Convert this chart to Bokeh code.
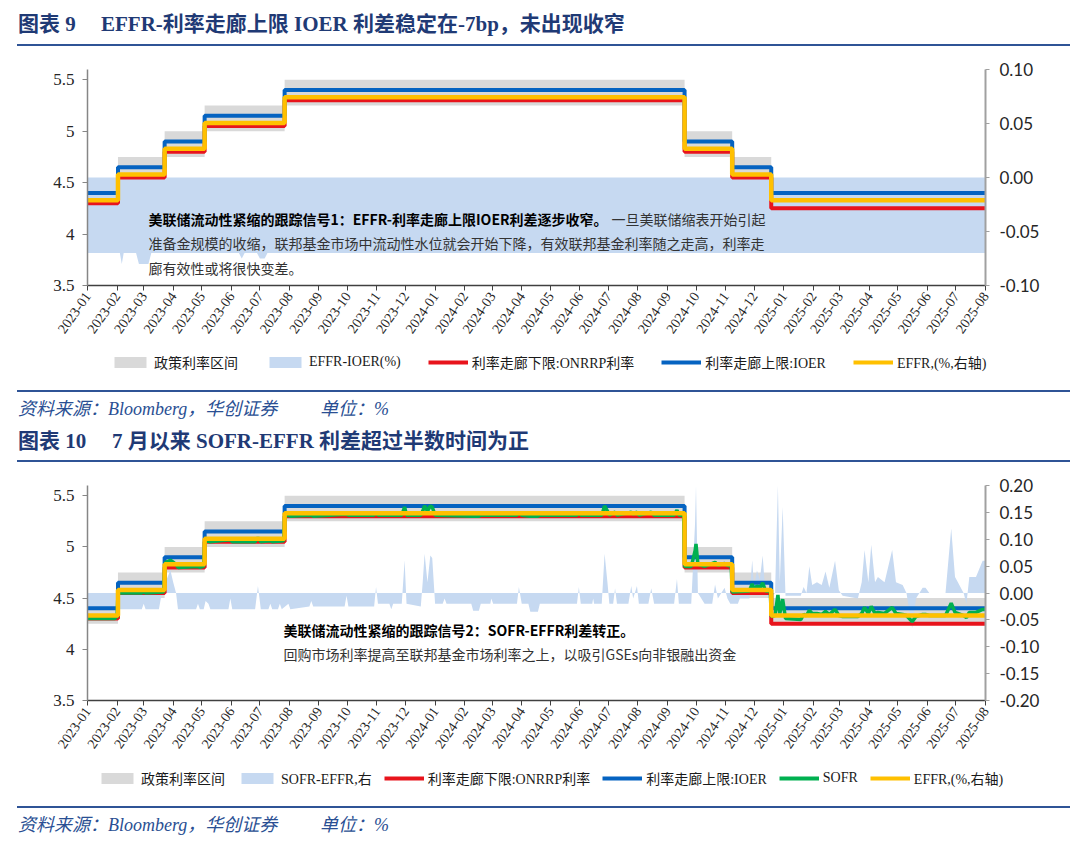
import math
import pandas as pd
from bokeh.plotting import figure
from bokeh.models import (Range1d, LinearAxis, FixedTicker, DatetimeTickFormatter,
                          NumeralTickFormatter, Legend, LegendItem, Label, Div,
                          ColumnDataSource)
from bokeh.layouts import column
from bokeh.embed import file_html
from bokeh.resources import INLINE

# ---------------- data ----------------
tick_months = ["2023-01", "2023-02", "2023-03", "2023-04", "2023-05", "2023-06", "2023-07",
               "2023-08", "2023-09", "2023-10", "2023-11", "2023-12", "2024-01", "2024-02",
               "2024-03", "2024-04", "2024-05", "2024-06", "2024-07", "2024-08", "2024-09",
               "2024-10", "2024-11", "2024-12", "2025-01", "2025-02", "2025-03", "2025-04",
               "2025-05", "2025-06", "2025-07", "2025-08"]
left_ticks = [3.5, 4.0, 4.5, 5.0, 5.5]
right_ticks_1 = [-0.10, -0.05, 0.00, 0.05, 0.10]
right_ticks_2 = [-0.20, -0.15, -0.10, -0.05, 0.00, 0.05, 0.10, 0.15, 0.20]

policy_start = ["2023-01-01", "2023-02-02", "2023-03-23", "2023-05-04", "2023-07-27",
                "2024-09-19", "2024-11-08", "2024-12-19"]
policy_end = ["2023-02-02", "2023-03-23", "2023-05-04", "2023-07-27", "2024-09-19",
              "2024-11-08", "2024-12-19", "2025-08-01"]
policy_lower = [4.25, 4.50, 4.75, 5.00, 5.25, 4.75, 4.50, 4.25]
policy_upper = [4.50, 4.75, 5.00, 5.25, 5.50, 5.00, 4.75, 4.50]
ioer = [4.40, 4.65, 4.90, 5.15, 5.40, 4.90, 4.65, 4.40]
onrrp = [4.30, 4.55, 4.80, 5.05, 5.30, 4.80, 4.55, 4.25]
effr = [4.33, 4.58, 4.83, 5.08, 5.33, 4.83, 4.58, 4.33]

effr_ioer_dates = ["2023-01-01", "2023-02-04", "2023-02-06", "2023-02-08", "2023-02-21",
                   "2023-02-24", "2023-03-06", "2023-03-09", "2023-06-09", "2023-06-12",
                   "2023-06-15", "2023-06-28", "2023-07-01", "2023-07-06", "2023-07-09",
                   "2025-08-01"]
effr_ioer = [-0.07, -0.07, -0.08, -0.07, -0.07, -0.08, -0.08, -0.07, -0.07, -0.075,
             -0.07, -0.07, -0.075, -0.075, -0.07, -0.07]

sofr_effr_dates = [
    "2023-01-01", "2023-01-30", "2023-01-31", "2023-02-01", "2023-02-27", "2023-03-01",
    "2023-03-03", "2023-03-17", "2023-03-20", "2023-03-24", "2023-03-29", "2023-04-01",
    "2023-04-04", "2023-04-06", "2023-04-25", "2023-04-27", "2023-04-29", "2023-05-03",
    "2023-05-05", "2023-05-08", "2023-05-10", "2023-05-29", "2023-05-31", "2023-06-02",
    "2023-06-26", "2023-06-29", "2023-07-02", "2023-07-10", "2023-07-12", "2023-07-14",
    "2023-07-20", "2023-07-22", "2023-07-24", "2023-07-31", "2023-08-02", "2023-08-22",
    "2023-08-24", "2023-08-26", "2023-09-28", "2023-09-30", "2023-10-02", "2023-10-29",
    "2023-10-31", "2023-11-02", "2023-11-14", "2023-11-16", "2023-11-18", "2023-11-27",
    "2023-11-30", "2023-12-02", "2023-12-17", "2023-12-19", "2023-12-21", "2023-12-24",
    "2023-12-27", "2023-12-29", "2024-01-01", "2024-01-09", "2024-01-11", "2024-01-13",
    "2024-02-08", "2024-02-10", "2024-02-16", "2024-02-18", "2024-02-28", "2024-02-29",
    "2024-03-02", "2024-03-27", "2024-03-29", "2024-04-01", "2024-04-08", "2024-04-10",
    "2024-04-18", "2024-04-20", "2024-05-29", "2024-05-31", "2024-06-02", "2024-06-14",
    "2024-06-15", "2024-06-16", "2024-06-24", "2024-06-27", "2024-06-30", "2024-07-02",
    "2024-07-06", "2024-07-08", "2024-07-10", "2024-07-22", "2024-07-25", "2024-07-27",
    "2024-07-31", "2024-08-02", "2024-08-12", "2024-08-15", "2024-08-18", "2024-09-08",
    "2024-09-11", "2024-09-13", "2024-09-26", "2024-09-30", "2024-10-01", "2024-10-03",
    "2024-10-10", "2024-10-18", "2024-10-21", "2024-10-24", "2024-10-31", "2024-11-03",
    "2024-11-06", "2024-11-14", "2024-11-16", "2024-11-26", "2024-11-29", "2024-12-01",
    "2024-12-04", "2024-12-07", "2024-12-10", "2024-12-13", "2024-12-20", "2024-12-23",
    "2024-12-26", "2024-12-28", "2024-12-31", "2025-01-03", "2025-01-19", "2025-01-22",
    "2025-01-25", "2025-01-28", "2025-01-31", "2025-02-05", "2025-02-10", "2025-02-14",
    "2025-02-18", "2025-02-24", "2025-02-28", "2025-03-04", "2025-03-20", "2025-03-24",
    "2025-03-27", "2025-03-31", "2025-04-03", "2025-04-07", "2025-04-10", "2025-04-17",
    "2025-04-25", "2025-04-29", "2025-05-06", "2025-05-10", "2025-05-16", "2025-05-20",
    "2025-05-27", "2025-05-30", "2025-06-03", "2025-06-20", "2025-06-26", "2025-06-30",
    "2025-07-03", "2025-07-09", "2025-07-12", "2025-07-15", "2025-07-22", "2025-07-29",
    "2025-08-01"]
sofr_effr = [
    -0.03, -0.03, -0.01, -0.03, -0.03, -0.02,
    -0.03, -0.03, 0.0, 0.02, 0.043, 0.02,
    0.0, -0.03, -0.03, -0.02, -0.03, -0.03,
    -0.015, -0.02, -0.03, -0.03, -0.01, -0.03,
    -0.03, 0.013, -0.03, -0.03, -0.02, -0.03,
    -0.03, -0.02, -0.03, -0.02, -0.03, -0.025,
    -0.015, -0.025, -0.025, -0.005, -0.025, -0.025,
    0.011, -0.02, -0.02, -0.03, -0.02, -0.02,
    0.061, -0.02, -0.025, 0.02, 0.073, 0.02,
    0.07, 0.065, -0.02, -0.02, -0.01, -0.02,
    -0.02, -0.033, -0.033, -0.02, -0.02, -0.01,
    -0.02, -0.02, 0.011, -0.02, -0.02, -0.035,
    -0.035, -0.02, -0.02, 0.011, -0.02, -0.02,
    -0.01, -0.02, -0.02, 0.073, 0.02, -0.02,
    -0.02, 0.009, -0.02, -0.02, 0.013, -0.01,
    0.013, -0.02, -0.02, 0.009, -0.02, -0.02,
    0.026, -0.02, -0.02, 0.13, 0.20, 0.0,
    -0.02, -0.02, 0.016, -0.01, 0.01, -0.01,
    -0.02, -0.02, -0.01, -0.01, 0.061, 0.011,
    0.042, 0.024, 0.07, -0.005, -0.005, 0.0,
    0.20, 0.02, 0.16, -0.005, -0.005, 0.011,
    0.0, 0.05, 0.015, 0.02, 0.015, 0.04,
    0.01, 0.06, 0.005, -0.005, -0.01, 0.02,
    0.08, 0.02, 0.09, 0.02, 0.03, 0.02,
    0.08, 0.02, 0.015, 0.0, -0.065, -0.01,
    0.01, 0.01, 0.0, 0.0, 0.12, 0.03,
    0.02, 0.0, -0.02, 0.03, 0.03, 0.06,
    0.06]

sofr_dates = [
    "2023-01-01", "2023-01-30", "2023-01-31", "2023-02-01", "2023-02-02", "2023-02-27",
    "2023-03-01", "2023-03-03", "2023-03-22", "2023-03-23", "2023-03-24", "2023-03-29",
    "2023-04-01", "2023-04-04", "2023-04-06", "2023-04-27", "2023-04-29", "2023-05-03",
    "2023-05-04", "2023-05-05", "2023-05-10", "2023-05-31", "2023-06-02", "2023-06-26",
    "2023-06-29", "2023-07-02", "2023-07-12", "2023-07-14", "2023-07-26", "2023-07-27",
    "2023-07-31", "2023-08-02", "2023-08-24", "2023-08-26", "2023-09-30", "2023-10-02",
    "2023-10-29", "2023-10-31", "2023-11-02", "2023-11-27", "2023-11-30", "2023-12-02",
    "2023-12-17", "2023-12-19", "2023-12-21", "2023-12-24", "2023-12-27", "2023-12-29",
    "2024-01-01", "2024-02-10", "2024-02-16", "2024-02-18", "2024-03-27", "2024-03-29",
    "2024-04-01", "2024-04-10", "2024-04-18", "2024-04-20", "2024-05-29", "2024-05-31",
    "2024-06-02", "2024-06-24", "2024-06-27", "2024-06-30", "2024-07-02", "2024-07-08",
    "2024-07-10", "2024-07-25", "2024-07-27", "2024-07-31", "2024-08-02", "2024-08-15",
    "2024-08-18", "2024-09-08", "2024-09-11", "2024-09-13", "2024-09-18", "2024-09-19",
    "2024-09-26", "2024-09-30", "2024-10-01", "2024-10-03", "2024-10-10", "2024-10-21",
    "2024-10-24", "2024-10-31", "2024-11-03", "2024-11-07", "2024-11-08", "2024-11-26",
    "2024-11-29", "2024-12-01", "2024-12-04", "2024-12-07", "2024-12-10", "2024-12-13",
    "2024-12-18", "2024-12-19", "2024-12-23", "2024-12-26", "2024-12-28", "2024-12-31",
    "2025-01-03", "2025-01-19", "2025-01-22", "2025-01-25", "2025-01-28", "2025-01-31",
    "2025-02-05", "2025-02-10", "2025-02-14", "2025-02-18", "2025-02-24", "2025-02-28",
    "2025-03-04", "2025-03-20", "2025-03-24", "2025-03-27", "2025-03-31", "2025-04-03",
    "2025-04-07", "2025-04-10", "2025-04-17", "2025-04-25", "2025-04-29", "2025-05-06",
    "2025-05-10", "2025-05-16", "2025-05-20", "2025-05-27", "2025-05-30", "2025-06-03",
    "2025-06-20", "2025-06-26", "2025-06-30", "2025-07-03", "2025-07-09", "2025-07-12",
    "2025-07-15", "2025-07-22", "2025-07-29", "2025-08-01"]
sofr = [
    4.30, 4.30, 4.32, 4.31, 4.55, 4.55,
    4.56, 4.55, 4.56, 4.80, 4.85, 4.87,
    4.85, 4.83, 4.80, 4.81, 4.80, 4.81,
    5.05, 5.06, 5.05, 5.07, 5.05, 5.05,
    5.09, 5.05, 5.06, 5.05, 5.06, 5.30,
    5.31, 5.30, 5.31, 5.30, 5.32, 5.31,
    5.31, 5.34, 5.31, 5.31, 5.39, 5.31,
    5.31, 5.35, 5.40, 5.35, 5.40, 5.39,
    5.31, 5.30, 5.30, 5.31, 5.31, 5.34,
    5.31, 5.30, 5.30, 5.31, 5.31, 5.34,
    5.31, 5.31, 5.40, 5.35, 5.31, 5.34,
    5.31, 5.34, 5.32, 5.34, 5.31, 5.34,
    5.31, 5.31, 5.36, 5.31, 5.31, 4.81,
    4.81, 4.96, 5.03, 4.83, 4.81, 4.85,
    4.82, 4.84, 4.82, 4.81, 4.56, 4.57,
    4.64, 4.59, 4.62, 4.60, 4.65, 4.57,
    4.57, 4.32, 4.33, 4.53, 4.35, 4.49,
    4.30, 4.29, 4.34, 4.33, 4.38, 4.35,
    4.35, 4.34, 4.37, 4.34, 4.39, 4.33,
    4.32, 4.32, 4.35, 4.41, 4.35, 4.42,
    4.35, 4.36, 4.35, 4.41, 4.35, 4.34,
    4.33, 4.27, 4.32, 4.34, 4.34, 4.33,
    4.33, 4.45, 4.36, 4.35, 4.33, 4.31,
    4.36, 4.36, 4.39, 4.39]

title1_num, title1_text = "图表 9", "EFFR-利率走廊上限 IOER 利差稳定在-7bp，未出现收窄"
title2_num, title2_text = "图表 10", "7 月以来 SOFR-EFFR 利差超过半数时间为正"
source_text, unit_text = "资料来源：Bloomberg，华创证券", "单位：%"
note1_bold = "美联储流动性紧缩的跟踪信号1：EFFR-利率走廊上限IOER利差逐步收窄。"
note1_rest = ["一旦美联储缩表开始引起",
              "准备金规模的收缩，联邦基金市场中流动性水位就会开始下降，有效联邦基金利率随之走高，利率走",
              "廊有效性或将很快变差。"]
note2_bold = "美联储流动性紧缩的跟踪信号2：SOFR-EFFR利差转正。"
note2_rest = "回购市场利率提高至联邦基金市场利率之上，以吸引GSEs向非银融出资金"
legend_labels_1 = ["政策利率区间", "EFFR-IOER(%)", "利率走廊下限:ONRRP利率", "利率走廊上限:IOER",
                   "EFFR,(%,右轴)"]
legend_labels_2 = ["政策利率区间", "SOFR-EFFR,右", "利率走廊下限:ONRRP利率", "利率走廊上限:IOER",
                   "SOFR", "EFFR,(%,右轴)"]

# ---------------- style ----------------
GRAY, LBLUE, RED, BLUE, GREEN, YELLOW = "#D9D9D9", "#C6D9F1", "#E8141C", "#0563C1", "#00B050", "#FFC000"
SERIF = "'Liberation Serif', 'Noto Sans CJK SC'"
SANS_CJK = "'Noto Sans CJK SC'"
NAVY = "#1F3A75"


def dt(lst):
    return pd.to_datetime(lst)


def month_ms(lst):
    return [pd.Timestamp(m + "-01").value // 10**6 for m in lst]


def make_fig(top, frame_h, bottom, r_range, r_ticks, spread_x, spread_y, with_sofr):
    height = top + frame_h + bottom
    p = figure(width=1080, height=height, x_axis_type="datetime",
               x_range=Range1d(pd.Timestamp(tick_months[0] + "-01"), pd.Timestamp(tick_months[-1] + "-01")),
               y_range=Range1d(3.5, 5.6), toolbar_location=None, output_backend="svg",
               min_border_left=87, min_border_right=95, min_border_top=top,
               min_border_bottom=bottom, title=None)
    p.extra_y_ranges = {"r": Range1d(*r_range)}
    p.outline_line_color = None
    p.xgrid.visible = False
    p.ygrid.visible = False
    p.background_fill_color = "white"
    p.border_fill_color = "white"

    ya = p.yaxis[0]
    ya.ticker = FixedTicker(ticks=left_ticks)
    ya.formatter = NumeralTickFormatter(format="0.[0]")
    ya.axis_line_color = "#868686"
    ya.axis_line_width = 1.5
    ya.major_tick_line_color = "#868686"
    ya.major_tick_out = 5
    ya.major_tick_in = 0
    ya.minor_tick_line_color = None
    ya.major_label_text_font = "Liberation Serif"
    ya.major_label_text_font_size = "17px"
    ya.major_label_text_color = "#262626"
    ya.major_label_standoff = 8

    xa = p.xaxis[0]
    xa.ticker = FixedTicker(ticks=month_ms(tick_months))
    fmt = {k: "%Y-%m" for k in ["microseconds", "milliseconds", "seconds", "minsec", "minutes",
                                "hourmin", "hours", "days", "months", "years"]}
    xa.formatter = DatetimeTickFormatter(**fmt)
    xa.axis_line_color = "#404040"
    xa.axis_line_width = 1.5
    xa.major_tick_line_color = "#404040"
    xa.major_tick_out = 5
    xa.major_tick_in = 0
    xa.minor_tick_line_color = None
    xa.major_label_orientation = math.radians(55)
    xa.major_label_text_font = "Liberation Serif"
    xa.major_label_text_font_size = "14px"
    xa.major_label_text_color = "#262626"
    xa.major_label_standoff = 3

    ra = LinearAxis(y_range_name="r", ticker=FixedTicker(ticks=r_ticks),
                    formatter=NumeralTickFormatter(format="0.00"))
    ra.axis_line_color = "#A0A0A0"
    ra.axis_line_width = 2
    ra.major_tick_line_color = "#A0A0A0"
    ra.major_tick_out = 4
    ra.major_tick_in = 0
    ra.minor_tick_line_color = None
    ra.major_label_text_font = "Lato"
    ra.major_label_text_font_size = "17px"
    ra.major_label_text_color = "#262626"
    ra.major_label_standoff = 10
    p.add_layout(ra, "right")

    band_src = ColumnDataSource(dict(l=dt(policy_start), r=dt(policy_end),
                                     b=policy_lower, t=policy_upper))
    p.quad(left="l", right="r", bottom="b", top="t", source=band_src,
           fill_color=GRAY, line_color=None)
    area_src = ColumnDataSource(dict(x=dt(spread_x), y=spread_y))
    p.varea(x="x", y1=0, y2="y", source=area_src, fill_color=LBLUE, y_range_name="r")

    step_x = dt(policy_start + [policy_end[-1]])
    p.step(step_x, onrrp + [onrrp[-1]], mode="after", line_color=RED, line_width=4)
    p.step(step_x, ioer + [ioer[-1]], mode="after", line_color=BLUE, line_width=4)
    if with_sofr:
        p.line(dt(sofr_dates), sofr, line_color=GREEN, line_width=3.5)
    p.step(step_x, effr + [effr[-1]], mode="after", line_color=YELLOW, line_width=4.5)
    return p


def make_legend_fig(height, labels, with_sofr, loc, spacing):
    # a strip that only holds the legend; its frame is the whole strip
    lf = figure(width=1080, height=height, toolbar_location=None, output_backend="svg",
                x_range=Range1d(0, 1), y_range=Range1d(0, 1), min_border=0,
                min_border_left=0, min_border_right=0, min_border_top=0, min_border_bottom=0,
                x_axis_location=None, y_axis_location=None, title=None)
    lf.frame_align = False
    lf.outline_line_color = None
    lf.xgrid.visible = False
    lf.ygrid.visible = False
    off = [-3, -2]  # outside the visible range: only the legend swatches show
    rs = [lf.quad(left=[off[0]], right=[off[1]], bottom=[off[0]], top=[off[1]],
                  fill_color=GRAY, line_color=None),
          lf.varea(x=off, y1=[off[0], off[0]], y2=[off[1], off[1]], fill_color=LBLUE),
          lf.line(off, off, line_color=RED, line_width=4),
          lf.line(off, off, line_color=BLUE, line_width=4)]
    if with_sofr:
        rs.append(lf.line(off, off, line_color=GREEN, line_width=4))
    rs.append(lf.line(off, off, line_color=YELLOW, line_width=4))
    items = [LegendItem(label=lab, renderers=[r]) for lab, r in zip(labels, rs)]
    legend = Legend(items=items, orientation="horizontal", location=loc,
                    border_line_color=None, background_fill_alpha=0, padding=0, margin=0,
                    spacing=spacing, label_standoff=4, glyph_width=40, glyph_height=14,
                    label_height=16, label_text_font=SERIF, label_text_font_size="14px",
                    label_text_color="#1a1a1a")
    lf.add_layout(legend)
    return lf


def note(p, x, y, text, bold):
    p.add_layout(Label(x=x, y=y, x_units="screen", y_units="screen", text=text,
                       text_baseline="middle", text_align="left", text_font=SANS_CJK,
                       text_font_size="14px", text_font_style="bold" if bold else "normal",
                       text_color="#000000" if bold else "#333333"))


# chart 1: page y 46..347, legend strip 347..390
p1 = make_fig(23, 216, 62, (-0.1, 0.1), right_ticks_1, effr_ioer_dates, effr_ioer, False)
note(p1, 61, 67, note1_bold, True)
note(p1, 524, 67, note1_rest[0], False)
note(p1, 61, 43, note1_rest[1], False)
note(p1, 61, 18, note1_rest[2], False)
lg1 = make_legend_fig(43, legend_labels_1, False, (110, 18), 27)

# chart 2: page y 462..762, legend strip 762..806
p2 = make_fig(23, 215, 62, (-0.2, 0.2), right_ticks_2, sofr_effr_dates, sofr_effr, True)
note(p2, 196, 71, note2_bold, True)
note(p2, 196, 47, note2_rest, False)
lg2 = make_legend_fig(44, legend_labels_2, True, (97, 18), 12)


def title_div(num, text, height, text_top, rule_top, text_left):
    html = (f'<div style="position:relative;width:1080px;height:{height}px;">'
            f'<div style="position:absolute;left:18px;top:{text_top}px;line-height:24px;'
            f'font-family:{SERIF};font-size:21px;font-weight:bold;color:{NAVY};white-space:nowrap;">{num}</div>'
            f'<div style="position:absolute;left:{text_left}px;top:{text_top}px;line-height:24px;'
            f'font-family:{SERIF};font-size:21px;font-weight:bold;color:{NAVY};white-space:nowrap;">{text}</div>'
            f'<div style="position:absolute;left:17px;top:{rule_top}px;width:1053px;height:2px;background:#2F5496;"></div>'
            f'</div>')
    return Div(text=html, width=1080, height=height, margin=0)


def source_div(height):
    html = (f'<div style="position:relative;width:1080px;height:{height}px;">'
            f'<div style="position:absolute;left:17px;top:0px;width:1053px;height:2px;background:#2F5496;"></div>'
            f'<div style="position:absolute;left:18px;top:8px;line-height:22px;font-family:{SERIF};'
            f'font-size:18px;font-style:italic;color:#2A4F93;white-space:nowrap;">{source_text}</div>'
            f'<div style="position:absolute;left:320px;top:8px;line-height:22px;font-family:{SERIF};'
            f'font-size:18px;font-style:italic;color:#2A4F93;white-space:nowrap;">{unit_text}</div>'
            f'</div>')
    return Div(text=html, width=1080, height=height, margin=0)


layout = column(title_div(title1_num, title1_text, 46, 12, 44, 101),
                p1, lg1,
                source_div(32),
                title_div(title2_num, title2_text, 40, 7, 38, 112),
                p2, lg2,
                source_div(44),
                spacing=0)

open("out.html", "w").write(file_html(layout, INLINE))
